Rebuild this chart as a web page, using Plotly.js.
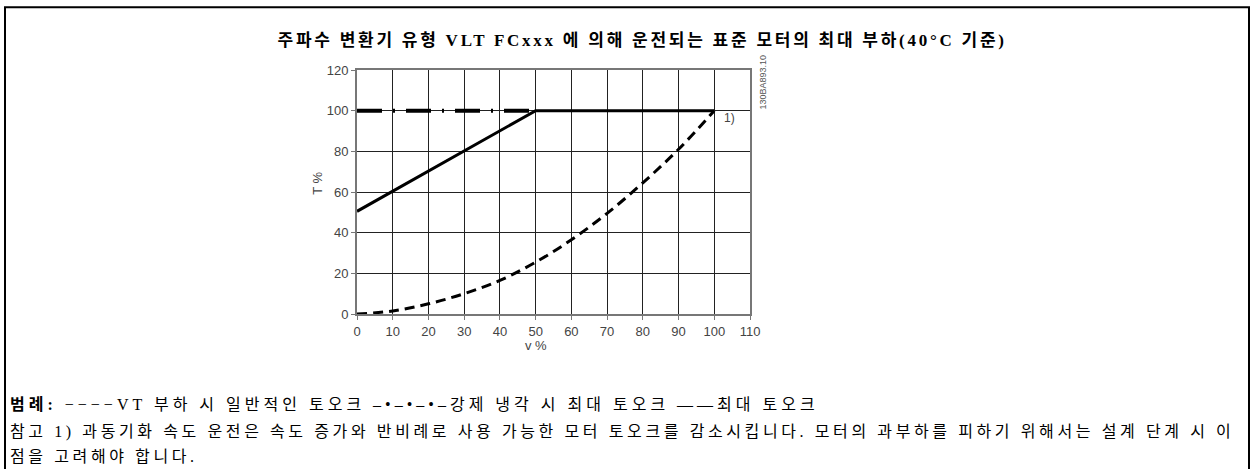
<!DOCTYPE html>
<html><head><meta charset="utf-8">
<script src="https://cdn.plot.ly/plotly-3.0.1.min.js"></script>
<style>html,body{margin:0;padding:0;background:#fff;}#c{width:1252px;height:469px;}</style>
</head><body><div id="c"></div>
<script>
const vtX = [0,10,20,30,40,50,60,70,80,90,100];
const vtY = [0,1.5,5,10,16.5,25.5,36.5,49.5,64.5,81,100];
const coolX = [0,50];
const coolY = [100,100];
const maxX = [0,50,100];
const maxY = [50.5,100,100];
const xTicks = [0,10,20,30,40,50,60,70,80,90,100,110];
const yTicks = [0,20,40,60,80,100,120];

const serif = '"Liberation Serif","Noto Sans CJK KR",serif';
const sans = '"Liberation Sans",Arial,sans-serif';
const PY = v => (469-155-v)/244.5;   // pixel row -> paper y
const PX = v => (v-357)/393;         // pixel col -> paper x

const traces = [
  {x: vtX, y: vtY, mode:'lines', line:{color:'#000', width:3, dash:'10px,6px', shape:'spline'}, hoverinfo:'skip'},
  {x: coolX, y: coolY, mode:'lines', line:{color:'#000', width:4, dash:'25px,11px,2px,11px'}, hoverinfo:'skip'},
  {x: maxX, y: maxY, mode:'lines', line:{color:'#000', width:3}, hoverinfo:'skip'}
];

const layout = {
  width:1252, height:469, showlegend:false,
  paper_bgcolor:'#fff', plot_bgcolor:'#fff',
  margin:{l:357, r:502, t:69.5, b:155, pad:0},
  xaxis:{range:[0,110], tickvals:xTicks, ticktext:xTicks.map(String), showgrid:true, gridcolor:'#222', gridwidth:1,
    showline:true, linecolor:'#777', linewidth:2, mirror:true, ticks:'outside', ticklen:4, tickcolor:'#777',
    zeroline:false, tickfont:{family:sans, size:13, color:'#444'}},
  yaxis:{range:[0,120], tickvals:yTicks, ticktext:yTicks.map(String), showgrid:true, gridcolor:'#222', gridwidth:1,
    showline:true, linecolor:'#777', linewidth:2, mirror:true, ticks:'outside', ticklen:4, tickcolor:'#777',
    zeroline:false, tickfont:{family:sans, size:13, color:'#444'}},
  shapes:[
    {type:'rect', xref:'paper', yref:'paper', x0:PX(5), x1:PX(1249), y0:PY(480), y1:PY(6.5),
     line:{color:'#000', width:2}, fillcolor:'rgba(0,0,0,0)'}
  ],
  annotations:[
    {xref:'paper', yref:'paper', x:PX(642), y:PY(40), xanchor:'center', yanchor:'middle', showarrow:false, align:'center',
     text:'<b>주파수 변환기 유형 VLT FCxxx 에 의해 운전되는 표준 모터의 최대 부하(40°C 기준)</b>',
     font:{family:serif, size:17, color:'#000'}},
    {xref:'x', yref:'y', x:102.3, y:96.5, xanchor:'left', yanchor:'middle', showarrow:false, text:'1)',
     font:{family:sans, size:12, color:'#444'}},
    {xref:'paper', yref:'paper', x:PX(763), y:PY(82), xanchor:'center', yanchor:'middle', showarrow:false,
     text:'130BA893.10', textangle:-90, font:{family:sans, size:9, color:'#555'}},
    {xref:'paper', yref:'paper', x:PX(8), y:PY(405), xanchor:'left', yanchor:'middle', showarrow:false, align:'left',
     text:'<b>범례:</b> −−−−VT 부하 시 일반적인 토오크 –•–•–•–강제 냉각 시 최대 토오크 ——최대 토오크',
     font:{family:serif, size:16, color:'#000'}},
    {xref:'paper', yref:'paper', x:PX(8), y:PY(432), xanchor:'left', yanchor:'middle', showarrow:false, align:'left',
     text:'참고 1) 과동기화 속도 운전은 속도 증가와 반비례로 사용 가능한 모터 토오크를 감소시킵니다. 모터의 과부하를 피하기 위해서는 설계 단계 시 이',
     font:{family:serif, size:16, color:'#000'}},
    {xref:'paper', yref:'paper', x:PX(8), y:PY(457), xanchor:'left', yanchor:'middle', showarrow:false, align:'left',
     text:'점을 고려해야 합니다.',
     font:{family:serif, size:16, color:'#000'}},
    {xref:'x', yref:'paper', x:50, y:PY(346), xanchor:'center', yanchor:'middle', showarrow:false, text:'v %',
     font:{family:sans, size:13, color:'#444'}},
    {xref:'paper', yref:'y', x:PX(318), y:64, xanchor:'center', yanchor:'middle', showarrow:false, text:'T %', textangle:-90,
     font:{family:sans, size:13, color:'#444'}}
  ]
};
Plotly.newPlot('c', traces, layout, {displayModeBar:false, staticPlot:true}).then(function(){
  const spacing = {0:'2.75px', 3:'4.0px', 4:'3.6px', 5:'3.6px'};
  document.querySelectorAll('g.annotation').forEach(function(g){
    const i = g.getAttribute('data-index');
    if (spacing[i]) g.querySelectorAll('text').forEach(function(t){ t.style.letterSpacing = spacing[i]; });
  });
});
</script></body></html>
